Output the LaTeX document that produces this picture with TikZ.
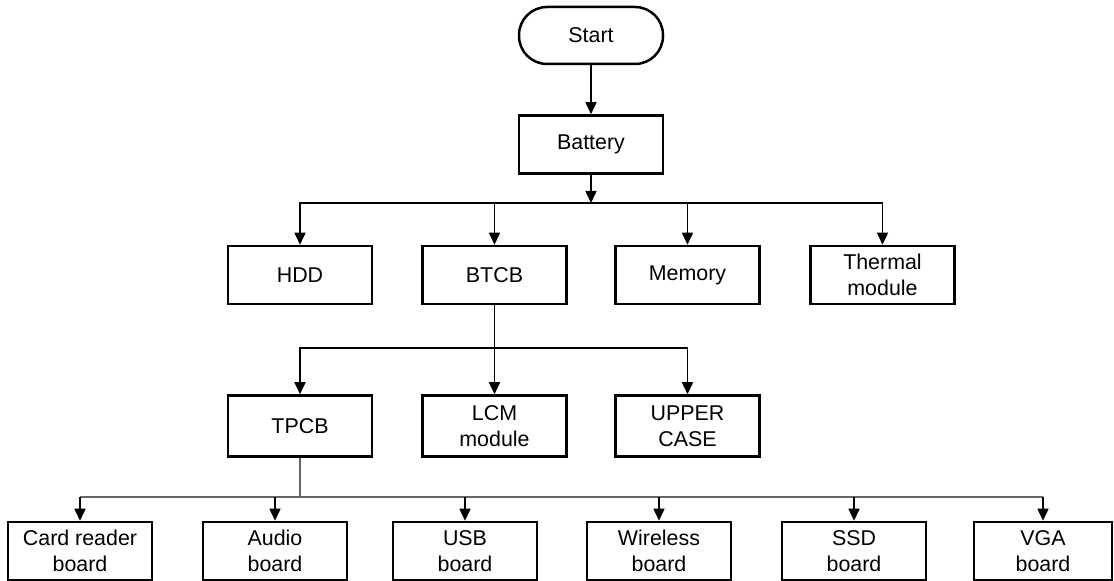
\documentclass[tikz,border=0pt]{standalone}
\usepackage{fontspec}
\setmainfont{Liberation Sans}
\usetikzlibrary{arrows.meta}

\begin{document}
\begin{tikzpicture}[
        x=0.5pt, y=-0.5pt,
        part/.style={rectangle, draw, line width=1.25pt, minimum width=72pt, minimum height=29pt, inner sep=0pt, align=center, font=\fontsize{10.7}{13}\selectfont},
        terminal/.style={part, rounded corners=14pt, minimum height=28.5pt},
        tall_part/.style={part, minimum height=30.5pt},
        link/.style={line width=0.75pt, -{Triangle[length=6pt, width=5.5pt]}},
        plain_link/.style={line width=0.75pt},
        bus/.style={line width=0.75pt, black!60}
    ]
    \useasboundingbox (0,0) rectangle (1114,581);

    % Start and battery
    \node[terminal] (start) at (591, 35.5) {Start};
    \node[part] (battery) at (591, 144.5) {Battery};
    \coordinate (j1) at (591, 203);

    % First row of parts
    \node[part] (hdd) at (300, 275) {HDD};
    \node[part] (btcb) at (494.5, 275) {BTCB};
    \node[part] (memory) at (687.5, 275) {Memory};
    \node[part] (thermal) at (882.5, 275) {Thermal\\module};
    \coordinate (j2) at (494.5, 348);

    % Second row of parts
    \node[tall_part] (tpcb) at (300, 426) {TPCB};
    \node[tall_part] (lcm) at (494.5, 426) {LCM\\module};
    \node[tall_part] (upper) at (687.5, 426) {UPPER\\CASE};
    \coordinate (j3) at (300, 497);

    % Boards under the TPCB
    \node[part] (card) at (80, 551) {Card reader\\board};
    \node[part] (audio) at (275, 551) {Audio\\board};
    \node[part] (usb) at (465, 551) {USB\\board};
    \node[part] (wireless) at (659, 551) {Wireless\\board};
    \node[part] (ssd) at (854, 551) {SSD\\board};
    \node[part, minimum width=69pt] (vga) at (1043, 551) {VGA\\board};

    % Connectors from the top
    \draw[link] (start) -- (battery);
    \draw[link] (battery) -- (j1);
    \draw[link] (j1) -| (hdd);
    \draw[link] (j1) -| (btcb);
    \draw[link] (j1) -| (memory);
    \draw[link] (j1) -| (thermal);

    % BTCB branches
    \draw[plain_link] (btcb) -- (j2);
    \draw[link] (j2) -| (tpcb);
    \draw[link] (j2) -- (lcm);
    \draw[link] (j2) -| (upper);

    % TPCB bus to the boards
    \draw[bus] (tpcb) -- (j3);
    \draw[bus] (card |- j3) -- (vga |- j3);
    \foreach \b in {card, audio, usb, wireless, ssd, vga}
        \draw[link] (\b |- j3) -- (\b);

\end{tikzpicture}
\end{document}
